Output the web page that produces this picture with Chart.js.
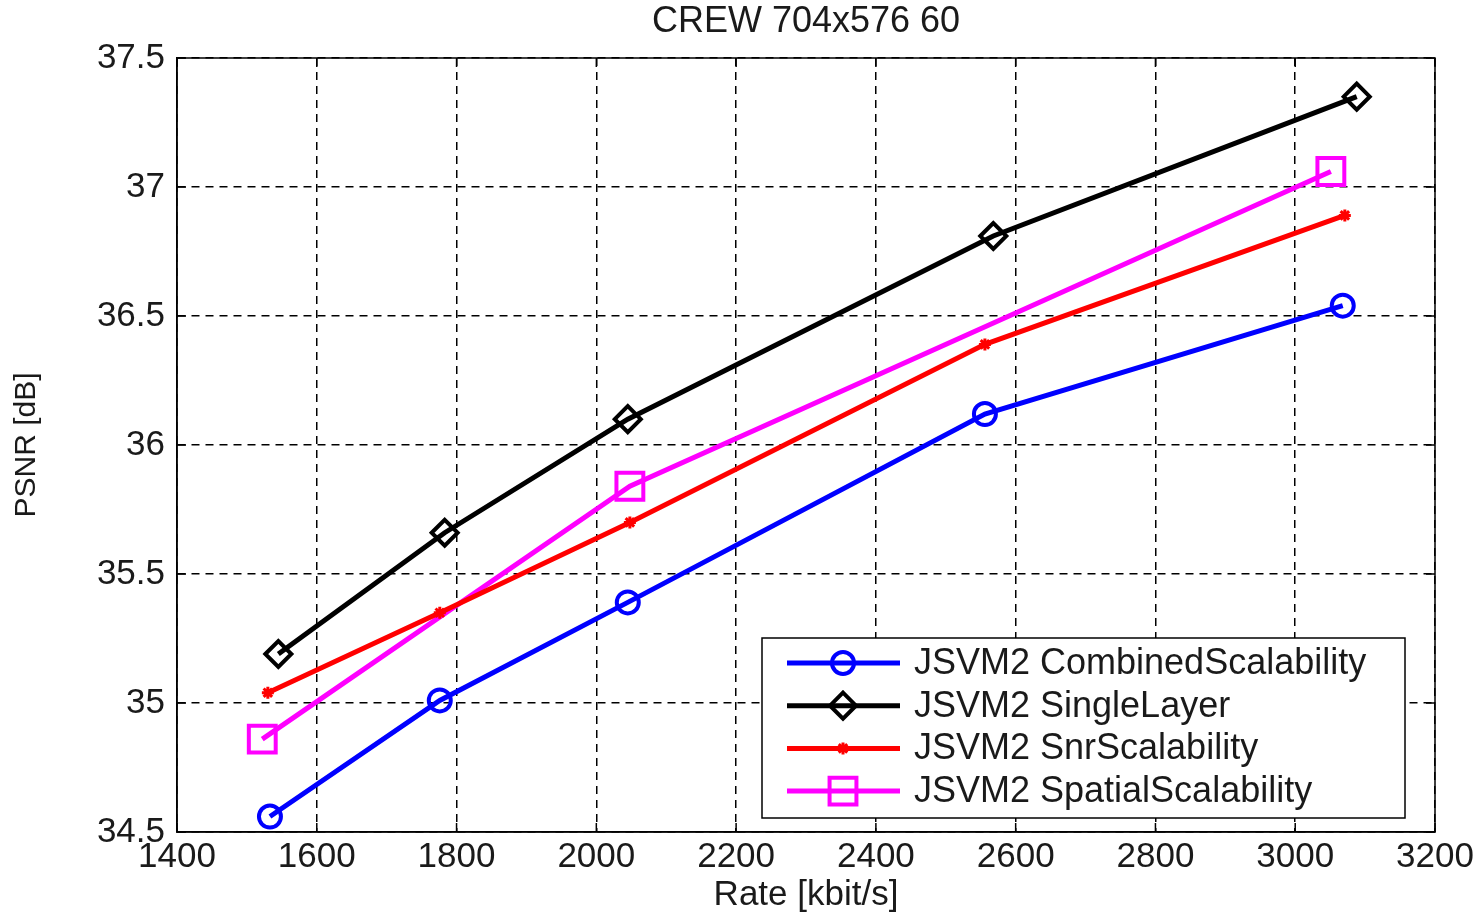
<!DOCTYPE html>
<html>
<head>
<meta charset="utf-8">
<title>CREW 704x576 60</title>
<script src="https://cdn.jsdelivr.net/npm/chart.js@4.4.0/dist/chart.umd.min.js"></script>
<style>
  html, body { margin:0; padding:0; background:#fff; }
  #wrap { width:1482px; height:913px; }
</style>
</head>
<body>
<div id="wrap"><canvas id="chart" width="1482" height="913"></canvas></div>
<script>
// values (rate in kbit/s, PSNR in dB)
const chartTitle = 'CREW 704x576 60';
const xTitle = 'Rate [kbit/s]';
const yTitle = 'PSNR [dB]';
const xTicks = [1400, 1600, 1800, 2000, 2200, 2400, 2600, 2800, 3000, 3200];
const yTicks = [34.5, 35, 35.5, 36, 36.5, 37, 37.5];

const seriesNames = ['JSVM2 CombinedScalability', 'JSVM2 SingleLayer', 'JSVM2 SnrScalability', 'JSVM2 SpatialScalability'];

const combinedRate = [1533, 1776, 2045, 2556, 3068];
const combinedPsnr = [34.56, 35.01, 35.39, 36.12, 36.54];

const singleRate = [1545, 1783, 2045, 2568, 3088];
const singlePsnr = [35.19, 35.66, 36.10, 36.81, 37.35];

const snrRate = [1530, 1776, 2048, 2556, 3071];
const snrPsnr = [35.04, 35.35, 35.70, 36.39, 36.89];

const spatialRate = [1522, 2048, 3051];
const spatialPsnr = [34.86, 35.84, 37.06];

const FONT = '"Liberation Sans", Arial, Helvetica, sans-serif';
const TXT = '#1a1a1a';

function pts(xs, ys){ return xs.map((x, i) => ({ x, y: ys[i] })); }

function series(label, xs, ys, color, style, r, pbw){
  return {
    label,
    data: pts(xs, ys),
    borderColor: color,
    backgroundColor: color,
    borderWidth: 5,
    pointStyle: style,
    pointRadius: r,
    pointBorderWidth: pbw,
    pointBorderColor: color,
    pointBackgroundColor: 'rgba(0,0,0,0)',
    tension: 0
  };
}

// small marker drawer for the legend box
function drawMark(ctx, style, x, y, r, color, lw){
  ctx.save();
  ctx.strokeStyle = color; ctx.lineWidth = lw;
  ctx.beginPath();
  if(style === 'circle'){
    ctx.arc(x, y, r, 0, Math.PI * 2);
  } else if(style === 'rectRot'){
    ctx.moveTo(x, y - r); ctx.lineTo(x + r, y); ctx.lineTo(x, y + r); ctx.lineTo(x - r, y); ctx.closePath();
  } else if(style === 'rect'){
    const s = r * Math.SQRT1_2;
    ctx.rect(x - s, y - s, 2 * s, 2 * s);
  } else {
    for(let k = 0; k < 4; k++){
      const a = k * Math.PI / 4;
      ctx.moveTo(x - Math.cos(a) * r, y - Math.sin(a) * r);
      ctx.lineTo(x + Math.cos(a) * r, y + Math.sin(a) * r);
    }
  }
  ctx.stroke();
  ctx.restore();
}

const decor = {
  id: 'decor',
  beforeDatasetsDraw(chart){
    const { ctx, chartArea: a, scales } = chart;
    ctx.save();
    // axes box
    ctx.strokeStyle = '#000'; ctx.lineWidth = 1.5; ctx.setLineDash([]);
    ctx.strokeRect(a.left, a.top, a.right - a.left, a.bottom - a.top);
    // inward tick marks on all four sides
    ctx.beginPath();
    xTicks.forEach(v => {
      const px = scales.x.getPixelForValue(v);
      ctx.moveTo(px, a.bottom); ctx.lineTo(px, a.bottom - 9);
      ctx.moveTo(px, a.top); ctx.lineTo(px, a.top + 9);
    });
    yTicks.forEach(v => {
      const py = scales.y.getPixelForValue(v);
      ctx.moveTo(a.left, py); ctx.lineTo(a.left + 9, py);
      ctx.moveTo(a.right, py); ctx.lineTo(a.right - 9, py);
    });
    ctx.stroke();
    // title
    ctx.fillStyle = TXT;
    ctx.font = '36px ' + FONT;
    ctx.textAlign = 'center'; ctx.textBaseline = 'middle';
    ctx.fillText(chartTitle, (a.left + a.right) / 2, 22);
    ctx.restore();
  },
  afterDatasetsDraw(chart){
    const { ctx, chartArea: a } = chart;
    const right = a.right - 30, bottom = a.bottom - 14;
    const left = right - 643, top = bottom - 180;
    ctx.save();
    ctx.fillStyle = '#fff';
    ctx.fillRect(left, top, right - left, bottom - top);
    ctx.strokeStyle = '#000'; ctx.lineWidth = 1.5;
    ctx.strokeRect(left, top, right - left, bottom - top);
    chart.data.datasets.forEach((ds, i) => {
      const y = top + 25 + i * 42.7;
      ctx.strokeStyle = ds.borderColor; ctx.lineWidth = 5;
      ctx.beginPath(); ctx.moveTo(left + 25, y); ctx.lineTo(left + 138, y); ctx.stroke();
      drawMark(ctx, ds.pointStyle, left + 81, y, ds.pointRadius, ds.borderColor, ds.pointBorderWidth);
      ctx.fillStyle = TXT;
      ctx.font = '36px ' + FONT;
      ctx.textAlign = 'left'; ctx.textBaseline = 'middle';
      ctx.fillText(ds.label, left + 152, y + 1);
    });
    ctx.restore();
  }
};

new Chart(document.getElementById('chart'), {
  type: 'line',
  data: {
    datasets: [
      series(seriesNames[0], combinedRate, combinedPsnr, '#0000ff', 'circle', 11, 4),
      series(seriesNames[1], singleRate, singlePsnr, '#000000', 'rectRot', 13, 4),
      series(seriesNames[2], snrRate, snrPsnr, '#ff0000', 'star', 6, 3),
      series(seriesNames[3], spatialRate, spatialPsnr, '#ff00ff', 'rect', 19, 4)
    ]
  },
  options: {
    responsive: false,
    animation: false,
    events: [],
    layout: { padding: { top: 58, right: 47, left: 0, bottom: 0 } },
    plugins: {
      legend: { display: false },
      title: { display: false },
      tooltip: { enabled: false }
    },
    scales: {
      x: {
        type: 'linear',
        min: 1400, max: 3200,
        afterBuildTicks: s => { s.ticks = xTicks.map(v => ({ value: v })); },
        afterFit: s => { s.height = 81; },
        ticks: { color: TXT, font: { family: FONT, size: 35 }, padding: 4, maxRotation: 0, callback: v => String(v) },
        grid: { color: '#000', lineWidth: 1.5, drawTicks: false },
        border: { display: true, color: '#000', width: 1.5, dash: [8, 6] },
        title: { display: true, text: xTitle, color: TXT, font: { family: FONT, size: 35, lineHeight: 1 }, padding: { top: 0, bottom: 0 } }
      },
      y: {
        min: 34.5, max: 37.5,
        afterBuildTicks: s => { s.ticks = yTicks.map(v => ({ value: v })); },
        afterFit: s => { s.width = 177; },
        ticks: { color: TXT, font: { family: FONT, size: 35 }, padding: 12, callback: v => String(v) },
        grid: { color: '#000', lineWidth: 1.5, drawTicks: false },
        border: { display: true, color: '#000', width: 1.5, dash: [8, 6] },
        title: { display: true, text: yTitle, color: TXT, font: { family: FONT, size: 30, lineHeight: 1 }, padding: { top: 12, bottom: 0 } }
      }
    }
  },
  plugins: [decor]
});
</script>
</body>
</html>
